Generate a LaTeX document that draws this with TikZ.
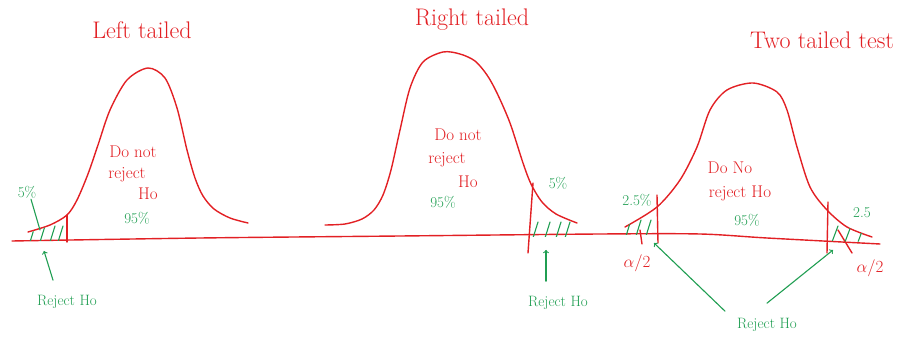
\documentclass[tikz,border=0pt]{standalone}
\usepackage{fix-cm}
\definecolor{hred}{RGB}{226,32,36}
\definecolor{hgreen}{RGB}{32,158,82}
\begin{document}
\begin{tikzpicture}[>=to,x=1pt,y=-1pt,
	redline/.style={hred,line width=1.4pt,line cap=round},
	greenline/.style={hgreen,line width=1.1pt,line cap=round},
	redtxt/.style={text=hred,font=\fontsize{17}{19}\selectfont,inner sep=1pt},
	greentxt/.style={text=hgreen,font=\fontsize{15}{17}\selectfont,inner sep=1pt},
	titletxt/.style={text=hred,font=\fontsize{24}{28}\selectfont}]
	\useasboundingbox (0,0) rectangle (906,339);
	% axis
	\draw[redline] plot[smooth] coordinates {(12,241) (200,238) (400,236) (600,234) (700,234) (767,238) (880,244)};
	% left tailed
	\draw[redline] plot[smooth] coordinates {(28,232) (50,225) (67,215) (77,200) (88,174) (98,145) (110,110) (127,80) (148,68) (165,78) (177,108) (187,150) (195,178) (203,196) (214,209) (230,218) (248,223)};
	\draw[redline] (67,215) -- (67,242);
	\begin{scope}
		\clip (26,234) -- (50,226) -- (67,215) -- (67,241) -- (26,241) -- cycle;
		\foreach \x in {30,40,50,58} \draw[greenline] (\x,242) -- ++(5,-16);
	\end{scope}
	% right tailed
	\draw[redline] plot[smooth] coordinates {(325,225) (345,224) (362,219) (374,210) (383,195) (391,170) (400,130) (410,88) (423,62) (443,52) (460,54) (475,61) (487,75) (497,93) (510,123) (523,163) (531,184) (542,202) (556,214) (577,223)};
	\draw[redline] (533,183) -- (528,253);
	\begin{scope}
		\clip (531,188) -- (542,203) -- (556,215) -- (578,224) -- (578,237) -- (529,237) -- cycle;
		\foreach \x in {533,545,556,565} \draw[greenline] (\x,238) -- ++(5,-16);
	\end{scope}
	% two tailed
	\draw[redline] plot[smooth] coordinates {(625,227) (657,207) (680,180) (697,147) (710,110) (727,90) (753,83) (777,92) (787,110) (797,147) (810,187) (827,210) (847,227) (872,237)};
	\draw[redline] (657,195) -- (658,243);
	\draw[redline] (828,202) -- (827,253);
	\draw[redline] (640,230) -- (642,244);
	\draw[redline] (838,230) -- (852,253);
	\begin{scope}
		\clip (622,229) -- (657,207) -- (657,235) -- (622,235) -- cycle;
		\foreach \x in {626,636,646} \draw[greenline] (\x,236) -- ++(5,-16);
	\end{scope}
	\begin{scope}
		\clip (828,209) -- (847,227) -- (873,238) -- (873,242) -- (828,241) -- cycle;
		\foreach \x in {832,845,858} \draw[greenline] (\x,242) -- ++(6,-16);
	\end{scope}
	% titles
	\node[titletxt] (ttlL) at (142,30) {Left tailed};
	\node[titletxt] (ttlR) at (472,20) {Right tailed};
	\node[titletxt] (ttlT) at (822,40) {Two tailed test};
	% left labels
	\node[redtxt] (dnL) at (133,152) {Do not};
	\node[redtxt] (rjL) at (127,175) {reject};
	\node[redtxt] (hoL) at (148,194) {Ho};
	\node[greentxt] (pcL) at (137,218) {95\%};
	\node[greentxt] (tlL) at (27,192) {5\%};
	\coordinate (tlLend) at (40,230);
	\draw[greenline] ([xshift=4pt]tlL.south) -- (tlLend);
	\node[greentxt] (rejL) at (67,302) {Reject Ho};
	\coordinate (tipL) at (44,251);
	\draw[greenline,->] ([xshift=-14pt,yshift=14pt]rejL.north) -- (tipL);
	% right labels
	\node[redtxt] (dnR) at (458,135) {Do not};
	\node[redtxt] (rjR) at (447,160) {reject};
	\node[redtxt] (hoR) at (468,182) {Ho};
	\node[greentxt] (pcR) at (443,202) {95\%};
	\node[greentxt] (tlR) at (558,183) {5\%};
	\node[greentxt] (rejR) at (558,303) {Reject Ho};
	\coordinate (tipR) at (546,250);
	\draw[greenline,->] ([xshift=-12pt,yshift=14pt]rejR.north) -- (tipR);
	% two tailed labels
	\node[redtxt] (dnT) at (730,168) {Do No};
	\node[redtxt] (rjT) at (740,193) {reject Ho};
	\node[greentxt] (pcT) at (747,220) {95\%};
	\node[greentxt] (tlT1) at (637,200) {2.5\%};
	\node[greentxt] (tlT2) at (862,213) {2.5};
	\node[redtxt] (alT1) at (637,263) {$\alpha/2$};
	\node[redtxt] (alT2) at (870,268) {$\alpha/2$};
	\node[greentxt] (rejT) at (767,325) {Reject Ho};
	\coordinate (tipT1) at (654,243);
	\coordinate (tipT2) at (833,250);
	\draw[greenline,->] ([xshift=-42pt,yshift=6pt]rejT.north) -- (tipT1);
	\draw[greenline,->] ([yshift=14pt]rejT.north) -- (tipT2);
\end{tikzpicture}
\end{document}
